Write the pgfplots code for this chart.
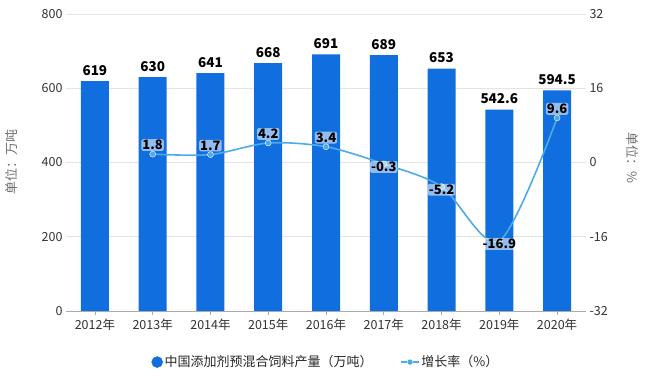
\documentclass[border=0pt]{standalone}
\usepackage{pgfplots}
\pgfplotsset{compat=1.18}
\usepackage{fontspec}
\setmainfont{Noto Sans CJK SC}
\definecolor{barblue}{RGB}{17,110,222}
\definecolor{lineblue}{RGB}{78,170,232}
\definecolor{gridgray}{RGB}{228,228,228}
\definecolor{axisgray}{RGB}{170,170,170}
\definecolor{txtgray}{RGB}{50,50,50}
\begin{document}
\begin{tikzpicture}
\path[use as bounding box] (-66pt,-71pt) rectangle (585pt,311pt);
\begin{axis}[
  scale only axis, width=520pt, height=297pt,
  xmin=-0.5, xmax=8.5, ymin=0, ymax=800,
  /pgf/number format/assume math mode=true,
  ytick={0,200,400,600,800},
  xtick={0,1,2,3,4,5,6,7,8},
  xticklabels={2012年,2013年,2014年,2015年,2016年,2017年,2018年,2019年,2020年},
  axis x line*=bottom, axis y line*=left,
  y axis line style={draw=none},
  x axis line style={axisgray, line width=0.8pt},
  ytick style={draw=none},
  xtick style={axisgray, line width=0.6pt},
  xtick align=outside, major tick length=4pt,
  ymajorgrids, grid style={gridgray, line width=0.6pt},
  tick label style={font=\fontsize{12.5}{14}\selectfont, text=txtgray},
  ylabel={单位：万吨},
  ylabel style={at={(axis description cs:-0.104,0.5)}, anchor=center, font=\fontsize{13}{15}\selectfont, text=txtgray!70},
  clip=false,
]
\addplot[ybar, bar width=28pt, fill=barblue, draw=none,
  nodes near coords, every node near coord/.append style={font=\bfseries\fontsize{13.5}{15}\selectfont, text=black, yshift=2pt}]
  coordinates {(0,619) (1,630) (2,641) (3,668) (4,691) (5,689) (6,653) (7,542.6) (8,594.5)};
\end{axis}
\begin{axis}[
  scale only axis, width=520pt, height=297pt,
  xmin=-0.5, xmax=8.5, ymin=-32, ymax=32,
  /pgf/number format/assume math mode=true,
  ytick={-32,-16,0,16,32},
  axis x line=none, axis y line*=right,
  y axis line style={draw=none},
  ytick style={draw=none},
  tick label style={font=\fontsize{12.5}{14}\selectfont, text=txtgray},
  ylabel={单位：\%},
  ylabel style={at={(axis description cs:1.09,0.515)}, anchor=center, rotate=180, font=\fontsize{13}{15}\selectfont, text=txtgray!70},
  clip=false,
  legend style={at={(axis description cs:0.5,-0.172)}, anchor=center, draw=none, fill=none,
    font=\fontsize{13}{15}\selectfont, text=black!85, legend columns=2,
    /tikz/every even column/.append style={column sep=26pt}},
  legend cell align=left,
]
\addlegendimage{only marks, mark=*, mark size=5.5pt, color=barblue}
\addlegendentry{中国添加剂预混合饲料产量（万吨）}
\addplot[lineblue, line width=1.6pt, smooth, tension=0.5, mark=*, mark size=3pt,
  mark options={fill=lineblue, draw=white, line width=0.4pt},
  nodes near coords,
  every node near coord/.append style={font=\bfseries\fontsize{13}{15}\selectfont, text=black,
    fill=white, fill opacity=0.55, text opacity=1, inner sep=1pt, rounded corners=2pt, yshift=3pt}]
  coordinates {(1,1.8) (2,1.7) (3,4.2) (4,3.4) (5,-0.3) (6,-5.2) (7,-16.9) (8,9.6)};
\addlegendentry{增长率（\%）}
\end{axis}
\end{tikzpicture}
\end{document}
